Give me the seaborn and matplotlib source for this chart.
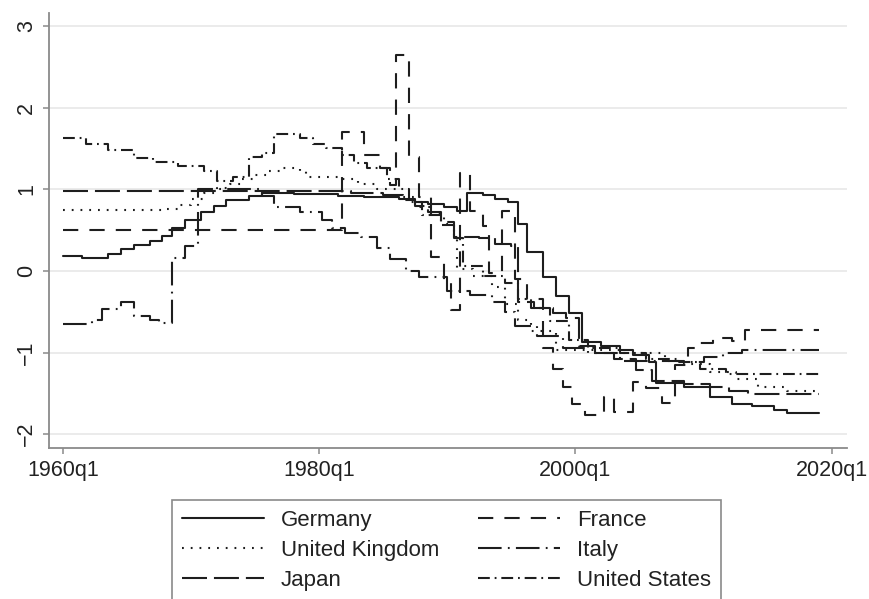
import matplotlib
matplotlib.use("Agg")
import matplotlib.pyplot as plt
import seaborn as sns

# ---- series (quarterly step series: change points as decimal years) ----
germany_t = [1960.0, 1961.5, 1963.5, 1964.5, 1965.5, 1966.75, 1967.75, 1968.5, 1969.5,
             1970.75, 1971.75, 1972.75, 1974.5, 1975.5, 1978.0, 1981.5, 1983.5, 1986.25,
             1987.5, 1988.5, 1989.75, 1990.75, 1991.5, 1992.75, 1993.75, 1994.75, 1995.5,
             1996.25, 1997.5, 1998.5, 1999.5, 2000.5, 2002.0, 2003.5, 2004.5, 2005.75,
             2006.25, 2008.5, 2010.5, 2012.25, 2013.75, 2015.5, 2016.5, 2019.0]
germany_v = [0.18, 0.16, 0.21, 0.27, 0.32, 0.37, 0.43, 0.53, 0.62,
             0.72, 0.80, 0.87, 0.92, 0.96, 0.94, 0.92, 0.90, 0.88,
             0.85, 0.82, 0.78, 0.74, 0.95, 0.93, 0.88, 0.85, 0.58,
             0.23, -0.08, -0.31, -0.52, -0.87, -0.92, -0.97, -1.03, -1.12,
             -1.37, -1.42, -1.54, -1.63, -1.66, -1.70, -1.74, -1.74]

france_t = [1960.0, 1981.75, 1983.5, 1984.75, 1985.5, 1986.0, 1987.0, 1987.75, 1988.75,
            1989.75, 1990.25, 1991.0, 1991.75, 1992.75, 1993.25, 1994.25, 1995.25,
            1996.25, 1997.5, 1998.25, 1999.0, 1999.75, 2000.75, 2002.25, 2003.0, 2004.5,
            2005.5, 2006.75, 2007.75, 2008.75, 2009.75, 2010.75, 2012.25, 2013.25, 2019.0]
france_v = [0.50, 1.70, 1.42, 1.26, 1.05, 2.65, 1.40, 0.90, 0.17,
            -0.12, -0.48, 1.20, 0.74, 0.55, -0.03, 0.74, -0.10,
            -0.35, -0.95, -1.20, -1.42, -1.63, -1.77, -1.55, -1.73, -1.36,
            -1.43, -1.62, -1.15, -0.95, -0.88, -0.82, -0.86, -0.73, -0.73]

uk_t = [1960.0, 1968.0, 1969.0, 1970.0, 1971.0, 1972.0, 1973.0, 1974.0, 1975.0, 1976.0,
        1977.0, 1978.5, 1979.0, 1981.75, 1983.0, 1984.5, 1986.0, 1987.5, 1988.75, 1989.75,
        1990.5, 1990.75, 1992.0, 1993.5, 1994.5, 1995.5, 1996.5, 1998.5, 2003.5, 2007.0,
        2008.5, 2010.5, 2012.5, 2014.25, 2016.5, 2019.0]
uk_v = [0.75, 0.76, 0.81, 0.88, 0.95, 1.01, 1.06, 1.12, 1.17, 1.22,
        1.26, 1.22, 1.15, 1.13, 1.07, 1.00, 0.90, 0.78, 0.70, 0.58,
        0.42, 0.02, -0.06, -0.20, -0.40, -0.60, -0.74, -0.97, -1.00, -1.10,
        -1.14, -1.24, -1.33, -1.42, -1.47, -1.47]

italy_t = [1960.0, 1962.25, 1963.0, 1964.5, 1965.5, 1966.75, 1967.5, 1968.5, 1969.5, 1970.5,
           1975.5, 1976.5, 1978.5, 1980.25, 1981.0, 1982.0, 1983.25, 1984.5, 1985.5, 1986.75,
           1987.75, 1990.0, 1991.75, 1993.5, 1994.5, 1995.25, 1997.0, 1999.0, 2001.0, 2003.5,
           2008.5, 2010.0, 2011.5, 2013.0, 2019.0]
italy_v = [-0.65, -0.60, -0.47, -0.38, -0.55, -0.60, -0.64, 0.16, 0.30, 1.00,
           0.92, 0.78, 0.72, 0.62, 0.52, 0.46, 0.42, 0.28, 0.15, 0.00,
           -0.08, -0.25, -0.30, -0.38, -0.50, -0.68, -0.80, -0.95, -1.00, -1.10,
           -1.12, -1.05, -1.00, -0.97, -0.97]

japan_t = [1960.0, 1982.5, 1985.0, 1986.5, 1987.5, 1988.5, 1989.5, 1990.5, 1992.5, 1993.75,
           1995.0, 1995.5, 1996.75, 1998.25, 1999.25, 2000.25, 2001.5, 2003.0, 2004.75,
           2006.0, 2008.5, 2010.5, 2012.0, 2013.5, 2019.0]
japan_v = [0.98, 0.96, 0.93, 0.87, 0.80, 0.72, 0.60, 0.42, 0.40, 0.33,
           0.30, -0.38, -0.45, -0.52, -0.58, -0.92, -1.00, -1.08, -1.22,
           -1.35, -1.38, -1.42, -1.47, -1.51, -1.51]

us_t = [1960.0, 1961.75, 1963.5, 1965.5, 1967.0, 1969.0, 1971.0, 1972.0, 1973.25, 1974.5,
        1975.5, 1976.5, 1978.5, 1979.5, 1980.5, 1981.75, 1982.75, 1983.75, 1985.25, 1986.25,
        1987.0, 1988.0, 1989.5, 1990.5, 1991.25, 1992.75, 1994.5, 1995.5, 1996.5, 1998.0,
        1999.5, 2001.0, 2003.5, 2005.5, 2008.0, 2009.75, 2011.75, 2019.0]
us_v = [1.63, 1.56, 1.48, 1.38, 1.33, 1.29, 1.23, 1.10, 1.15, 1.40,
        1.44, 1.68, 1.63, 1.56, 1.51, 1.42, 1.32, 1.26, 1.12, 1.00,
        0.85, 0.68, 0.56, 0.40, 0.06, -0.06, -0.15, -0.35, -0.45, -0.62,
        -0.85, -0.95, -1.00, -1.08, -1.12, -1.20, -1.26, -1.28]

x_ticks = [1960, 1980, 2000, 2020]
x_tick_labels = ["1960q1", "1980q1", "2000q1", "2020q1"]
y_ticks = [-2, -1, 0, 1, 2, 3]
y_tick_labels = ["\u22122", "\u22121", "0", "1", "2", "3"]

# ---- style ----
sns.set_theme(style="white")
plt.rcParams["font.family"] = ["Liberation Sans", "DejaVu Sans"]
plt.rcParams["lines.scale_dashes"] = False

ink = "#1e1e1e"
series = [
    ("Germany", germany_t, germany_v, "-"),
    ("United Kingdom", uk_t, uk_v, (0, (1.3, 5.0))),
    ("Japan", japan_t, japan_v, (0, (18, 5))),
    ("France", france_t, france_v, (0, (11, 8))),
    ("Italy", italy_t, italy_v, (0, (17, 4.5, 1.3, 4.5))),
    ("United States", us_t, us_v, (0, (8.5, 3.5, 1.3, 3.5))),
]

fig = plt.figure(figsize=(8.69, 5.99), dpi=100)
ax = fig.add_axes([49 / 869, 1 - 448 / 599, (847 - 49) / 869, (448 - 13) / 599])

handles = {}
for name, t, v, ls in series:
    sns.lineplot(x=t, y=v, ax=ax, color=ink, linewidth=1.5, linestyle=ls,
                 drawstyle="steps-post", estimator=None, sort=False)
    handles[name] = ax.lines[-1]

ax.set_xlim(1958.9, 2021.2)
ax.set_ylim(-2.17, 3.16)
ax.set_xticks(x_ticks)
ax.set_xticklabels(x_tick_labels, fontsize=15.5, color="#222222")
ax.set_yticks(y_ticks)
ax.set_yticklabels(y_tick_labels, fontsize=15.5, color="#222222", rotation=90, va="center")
ax.set_xlabel("")
ax.set_ylabel("")

ax.yaxis.grid(True, color="#e9e9e9", linewidth=1.3)
ax.xaxis.grid(False)
ax.set_axisbelow(True)
for side in ("top", "right"):
    ax.spines[side].set_visible(False)
for side in ("left", "bottom"):
    ax.spines[side].set_color("#8a8a8a")
    ax.spines[side].set_linewidth(1.3)
ax.tick_params(axis="both", direction="out", length=4.5, width=1.1, color="#8a8a8a",
               left=True, bottom=True, pad=4)

order = ["Germany", "United Kingdom", "Japan", "France", "Italy", "United States"]
leg = fig.legend([handles[n] for n in order], order, ncol=2, loc="upper left",
                 bbox_to_anchor=(172 / 869, 1 - 500 / 599), bbox_transform=fig.transFigure,
                 borderaxespad=0.0, frameon=True, fancybox=False, framealpha=1,
                 edgecolor="#8a8a8a", fontsize=16, handlelength=3.7, handletextpad=0.75,
                 columnspacing=1.75, labelspacing=0.4, borderpad=0.45)
leg.get_frame().set_linewidth(1.2)
for txt in leg.get_texts():
    txt.set_color("#222222")

fig.savefig("out.png", dpi=100, facecolor="white")
